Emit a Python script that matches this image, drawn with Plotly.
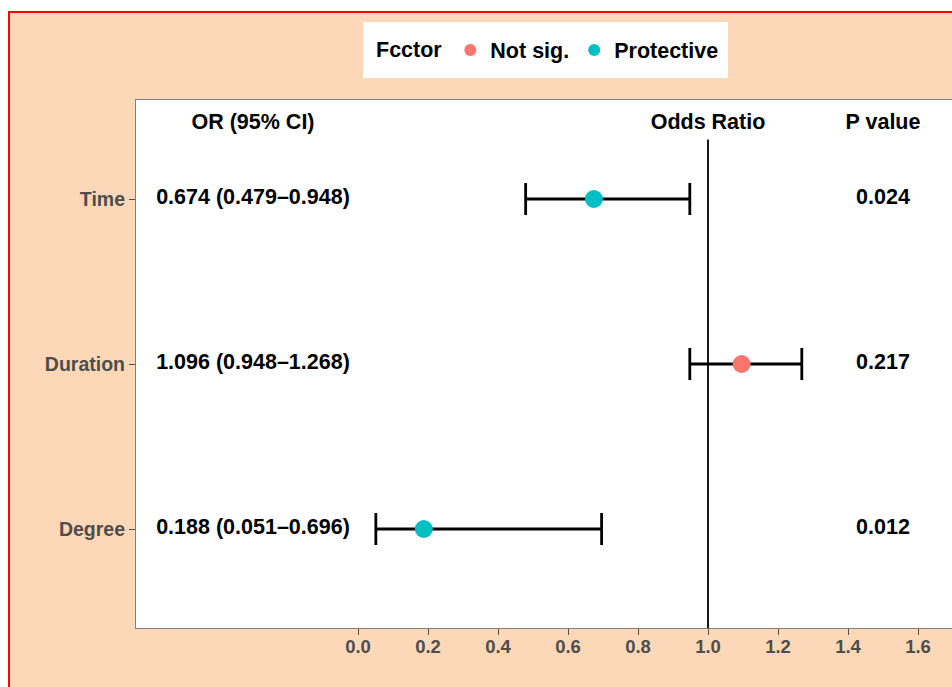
import plotly.graph_objects as go

# ---- data ----
factors = ["Time", "Duration", "Degree"]
y_pos = [3, 2, 1]
odds_ratio = [0.674, 1.096, 0.188]
ci_low = [0.479, 0.948, 0.051]
ci_high = [0.948, 1.268, 0.696]
groups = ["Protective", "Not sig.", "Protective"]
or_labels = ["0.674 (0.479\u20130.948)", "1.096 (0.948\u20131.268)", "0.188 (0.051\u20130.696)"]
p_values = ["0.024", "0.217", "0.012"]
headers = ["OR (95% CI)", "Odds Ratio", "P value"]
header_x = [-0.3, 1.0, 1.5]
header_y = 3.455
or_text_x = -0.3
p_text_x = 1.5
ref_line_x = 1.0
ref_line_top = 3.36
x_ticks = [0.0, 0.2, 0.4, 0.6, 0.8, 1.0, 1.2, 1.4, 1.6]
x_tick_labels = ["0.0", "0.2", "0.4", "0.6", "0.8", "1.0", "1.2", "1.4", "1.6"]
group_order = ["Not sig.", "Protective"]
group_colors = ["#F8766D", "#00BFC4"]
legend_title = "Fcctor"

FONT = "Liberation Sans, Arial, Helvetica, sans-serif"
OFF = 0  # page body margin removed by post_script
W, H = 952, 687
L, R, T, B = 136, 0, 100, 59
pw, ph = W - L - R, H - T - B

def fx(p):  # page pixel x -> paper x
    return (p - OFF - L) / pw

def fy(p):  # page pixel y -> paper y
    return (H - B - (p - OFF)) / ph

fig = go.Figure()

for g, col in zip(group_order, group_colors):
    idx = [i for i, gg in enumerate(groups) if gg == g]
    fig.add_trace(go.Scatter(
        x=[odds_ratio[i] for i in idx],
        y=[y_pos[i] for i in idx],
        mode="markers",
        name=g,
        marker=dict(color=col, size=18),
        error_x=dict(
            type="data", symmetric=False,
            array=[ci_high[i] - odds_ratio[i] for i in idx],
            arrayminus=[odds_ratio[i] - ci_low[i] for i in idx],
            color="black", thickness=2.8, width=16,
        ),
    ))

txt_font = dict(family=FONT, size=21.5, color="black", weight="bold")
fig.add_trace(go.Scatter(
    x=[or_text_x] * len(or_labels), y=y_pos, text=or_labels, mode="text",
    textfont=txt_font, showlegend=False, hoverinfo="skip",
))
fig.add_trace(go.Scatter(
    x=[p_text_x] * len(p_values), y=y_pos, text=p_values, mode="text",
    textfont=txt_font, showlegend=False, hoverinfo="skip",
))
fig.add_trace(go.Scatter(
    x=header_x, y=[header_y] * len(headers), text=headers, mode="text",
    textfont=txt_font, showlegend=False, hoverinfo="skip",
))

shapes = [
    dict(type="line", xref="x", yref="y", x0=ref_line_x, x1=ref_line_x,
         y0=0.4, y1=ref_line_top, line=dict(color="black", width=1.8), layer="below"),
    # white strips outside the red frame
    dict(type="rect", xref="paper", yref="paper", x0=fx(-5), x1=fx(1000),
         y0=fy(11), y1=fy(-5), fillcolor="white", line=dict(width=0)),
    dict(type="rect", xref="paper", yref="paper", x0=fx(-5), x1=fx(8),
         y0=fy(700), y1=fy(-5), fillcolor="white", line=dict(width=0)),
    # red frame lines
    dict(type="line", xref="paper", yref="paper", x0=fx(8), x1=fx(1000),
         y0=fy(12), y1=fy(12), line=dict(color="red", width=2)),
    dict(type="line", xref="paper", yref="paper", x0=fx(9), x1=fx(9),
         y0=fy(11), y1=fy(700), line=dict(color="red", width=2)),
    # legend white box
    dict(type="rect", xref="paper", yref="paper", x0=fx(363), x1=fx(728),
         y0=fy(78), y1=fy(22), fillcolor="white", line=dict(width=0)),
]

fig.update_layout(
    width=W, height=H,
    margin=dict(l=L, r=R, t=T, b=B, pad=0),
    paper_bgcolor="#FDD8B8",
    plot_bgcolor="white",
    font=dict(family=FONT, size=19, color="#4D4D4D", weight="bold"),
    shapes=shapes,
    showlegend=True,
    legend=dict(
        orientation="h", x=fx(549), xanchor="center", y=fy(50), yanchor="middle",
        bgcolor="white", borderwidth=0,
        title=dict(text=legend_title, font=dict(family=FONT, size=21.5, color="black", weight="bold")),
        font=dict(family=FONT, size=21.5, color="black", weight="bold"),
        itemsizing="constant", traceorder="normal",
    ),
    xaxis=dict(
        range=[(L + OFF - 358) / 350, (W + OFF - 358) / 350],
        tickvals=x_ticks, ticktext=x_tick_labels,
        showgrid=False, zeroline=False,
        showline=True, linecolor="#7F7F7F", linewidth=1.2, mirror=True,
        ticks="outside", ticklen=6, tickcolor="#4D4D4D", tickwidth=1.2,
        ticklabelstandoff=-4,
        tickfont=dict(family=FONT, size=18.5, color="#4D4D4D", weight="bold"),
    ),
    yaxis=dict(
        range=[0.4, 3.6],
        tickvals=y_pos, ticktext=factors,
        showgrid=False, zeroline=False,
        showline=True, linecolor="#7F7F7F", linewidth=1.2,
        ticks="outside", ticklen=6, tickcolor="#4D4D4D", tickwidth=1.2,
        tickfont=dict(family=FONT, size=19.5, color="#4D4D4D", weight="bold"),
    ),
)

fig.write_html(
    "out.html",
    config={"displayModeBar": False},
    post_script="document.body.style.margin='0';document.documentElement.style.overflow='hidden';",
)
